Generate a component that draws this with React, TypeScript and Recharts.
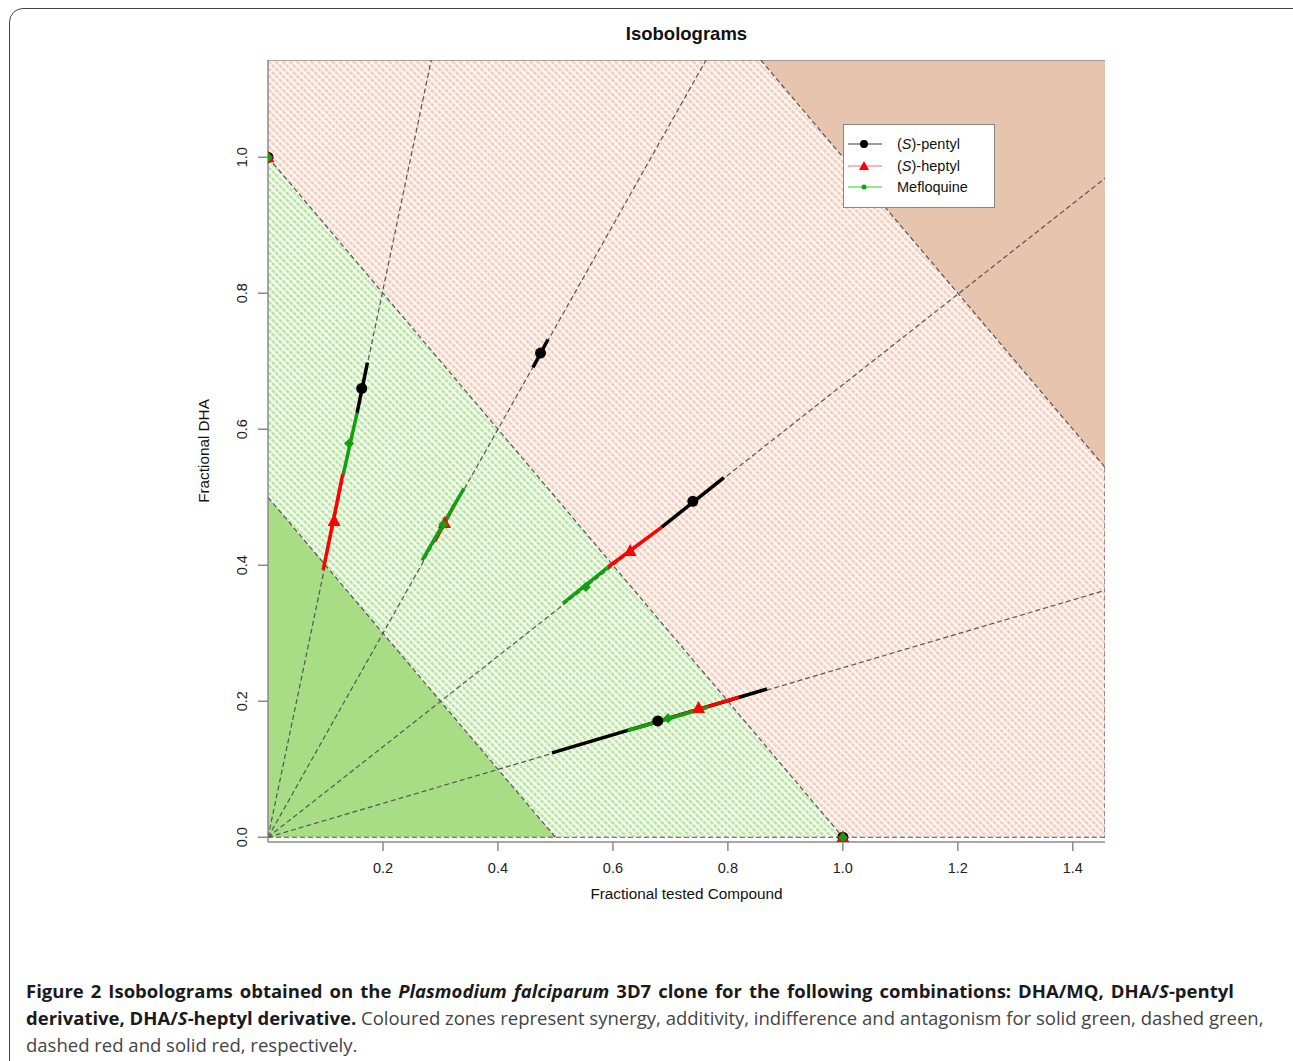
import React from 'react';
import { ComposedChart, Area, Line, Scatter, XAxis, YAxis } from 'recharts';

// plot window (fraction of IC50)
const X_MAX = 1.456;
const Y_MIN = -0.007;
const Y_MAX = 1.143;

const xTicks = [0.2, 0.4, 0.6, 0.8, 1.0, 1.2, 1.4];
const yTicks = [0, 0.2, 0.4, 0.6, 0.8, 1.0];

// zone boundaries (isoboles x + y = 0.5, 1, 2) sampled at their break points
const zoneX = [0, 0.5, 0.857, 1, 1.456];
const synergyTop = [0.5, 0, 0, 0, 0];
const additivityTop = [1, 0.5, 0.143, 0, 0];
const indifferenceTop = [1.143, 1.143, 1.143, 1, 0.544];
const plotTop = [1.143, 1.143, 1.143, 1.143, 1.143];

// fixed-ratio rays from origin
const rayEnds = [
  { x: 0.284, y: 1.143 },
  { x: 0.762, y: 1.143 },
  { x: 1.456, y: 0.969 },
  { x: 1.456, y: 0.363 },
];

const isoboleSegments = [
  [0, 0.5, 0.5, 0],
  [0, 1, 1, 0],
  [0.857, 1.143, 1.456, 0.544],
  [0, 0, 1.456, 0],
  [1.456, 0.544, 1.456, 0],
];

// confidence segments along each ray [x1, y1, x2, y2]
const pentylCI = [
  [0.155, 0.624, 0.173, 0.698],
  [0.461, 0.691, 0.487, 0.732],
  [0.685, 0.456, 0.793, 0.529],
  [0.494, 0.124, 0.868, 0.218],
];
const heptylCI = [
  [0.096, 0.393, 0.13, 0.534],
  [0.29, 0.435, 0.325, 0.49],
  [0.591, 0.397, 0.685, 0.456],
  [0.64, 0.16, 0.819, 0.206],
];
const mefloquineCI = [
  [0.131, 0.534, 0.155, 0.624],
  [0.268, 0.407, 0.341, 0.513],
  [0.513, 0.344, 0.591, 0.397],
  [0.626, 0.157, 0.765, 0.191],
];

const pentylPts = [
  { x: 0, y: 1 }, { x: 1, y: 0 },
  { x: 0.163, y: 0.66 }, { x: 0.474, y: 0.712 }, { x: 0.739, y: 0.494 }, { x: 0.678, y: 0.171 },
];
const heptylPts = [
  { x: 0, y: 1 }, { x: 1, y: 0 },
  { x: 0.115, y: 0.465 }, { x: 0.307, y: 0.462 }, { x: 0.63, y: 0.421 }, { x: 0.749, y: 0.19 },
];
const mefloquinePts = [
  { x: 0, y: 1 }, { x: 1, y: 0 },
  { x: 0.141, y: 0.579 }, { x: 0.305, y: 0.46 }, { x: 0.553, y: 0.368 }, { x: 0.696, y: 0.175 },
];

const zoneRows = zoneX.map((x, i) => ({
  x,
  synergy: [0, synergyTop[i]],
  additivity: [synergyTop[i], additivityTop[i]],
  indifference: [additivityTop[i], indifferenceTop[i]],
  antagonism: [indifferenceTop[i], plotTop[i]],
}));

const segs = (list: number[][]) =>
  list.flatMap((s) => [{ x: s[0], y: s[1] }, { x: s[2], y: s[3] }, { x: s[2], y: null }]);

const RED = '#ff0000';
const GREEN = '#12a012';
const DASH = '#555555';
const AXIS = '#8a8a8a';

const Dot = (p: any) => <circle cx={p.cx} cy={p.cy} r={5.5} fill="#000" />;
const Tri = (p: any) => (
  <polygon points={`${p.cx},${p.cy - 7} ${p.cx - 6.5},${p.cy + 5} ${p.cx + 6.5},${p.cy + 5}`} fill={RED} />
);
const Diamond = (p: any) => (
  <polygon points={`${p.cx},${p.cy - 5} ${p.cx + 5},${p.cy} ${p.cx},${p.cy + 5} ${p.cx - 5},${p.cy}`} fill={GREEN} />
);

const XTick = (p: any) => (
  <text x={p.x} y={p.y} dy="0.71em" textAnchor="middle" fontSize={14.5} fill="#222" fontFamily="Liberation Sans, Arial">
    {Number(p.payload.value).toFixed(1)}
  </text>
);
const YTick = (p: any) => (
  <text x={p.x} y={p.y} transform={`rotate(-90, ${p.x}, ${p.y})`} textAnchor="middle" fontSize={14.5} fill="#222" fontFamily="Liberation Sans, Arial">
    {Number(p.payload.value).toFixed(1)}
  </text>
);

const legendItems = [
  { label: 'pentyl', italic: true, line: '#777', marker: <circle cx={16} cy={7} r={4} fill="#000" /> },
  { label: 'heptyl', italic: true, line: '#ff9a9a', marker: <polygon points="16,2 11,11 21,11" fill={RED} /> },
  { label: 'Mefloquine', italic: false, line: '#6fe06f', marker: <circle cx={16} cy={7} r={2.5} fill={GREEN} /> },
];

export default function App() {
  const font = 'Liberation Sans, Arial, sans-serif';
  return (
    <div style={{ position: 'absolute', left: 0, top: 0, width: 1293, height: 1061, background: '#fff', overflow: 'hidden', fontFamily: font }}>
      <div style={{ position: 'absolute', left: 9, top: 8, width: 1310, height: 1100, border: '1.5px solid #444', borderRadius: 14 }} />
      <div style={{ position: 'absolute', left: 268, width: 837, top: 23, textAlign: 'center', fontWeight: 'bold', fontSize: 18.5, color: '#111' }}>
        Isobolograms
      </div>
      <ComposedChart
        width={1293}
        height={920}
        data={zoneRows}
        margin={{ top: 60, right: 188, bottom: 38, left: 208 }}
        style={{ position: 'absolute', left: 0, top: 0 }}
      >
        <defs>
          <pattern id="hatchGreen" width="5" height="5" patternUnits="userSpaceOnUse" patternTransform="rotate(-45)">
            <rect width="5" height="5" fill="#f6fcf2" />
            <line x1="1.5" y1="0" x2="1.5" y2="5" stroke="#b3e39a" strokeWidth="2.4" strokeDasharray="2 1" />
          </pattern>
          <pattern id="hatchRed" width="5" height="5" patternUnits="userSpaceOnUse" patternTransform="rotate(-45)">
            <rect width="5" height="5" fill="#fdf7f4" />
            <line x1="1.5" y1="0" x2="1.5" y2="5" stroke="#f2cdbb" strokeWidth="2.6" strokeDasharray="2 1" />
          </pattern>
        </defs>
        <XAxis
          dataKey="x"
          type="number"
          domain={[0, X_MAX]}
          ticks={xTicks}
          allowDataOverflow
          height={40}
          tickSize={9}
          tickMargin={12}
          tick={<XTick />}
          stroke={AXIS}
          strokeWidth={1.5}
        />
        <YAxis
          dataKey="y"
          type="number"
          domain={[Y_MIN, Y_MAX]}
          ticks={yTicks}
          allowDataOverflow
          width={60}
          tickSize={10}
          tickMargin={11}
          tick={<YTick />}
          stroke={AXIS}
          strokeWidth={1.5}
        />
        <Area type="linear" dataKey="synergy" fill="#a8dd86" fillOpacity={1} stroke="none" isAnimationActive={false} />
        <Area type="linear" dataKey="additivity" fill="url(#hatchGreen)" fillOpacity={1} stroke="none" isAnimationActive={false} />
        <Area type="linear" dataKey="indifference" fill="url(#hatchRed)" fillOpacity={1} stroke="none" isAnimationActive={false} />
        <Area type="linear" dataKey="antagonism" fill="#e6c4ae" fillOpacity={1} stroke="none" isAnimationActive={false} />
        <Line
          data={[{ x: 0, y: Y_MAX }, { x: X_MAX, y: Y_MAX }]}
          dataKey="y"
          stroke={AXIS}
          strokeWidth={1.5}
          dot={false}
          isAnimationActive={false}
        />
        {isoboleSegments.map((s, i) => (
          <Line
            key={'iso' + i}
            data={[{ x: s[0], y: s[1] }, { x: s[2], y: s[3] }]}
            dataKey="y"
            stroke={DASH}
            strokeWidth={1.2}
            strokeDasharray="5 3"
            dot={false}
            isAnimationActive={false}
          />
        ))}
        {rayEnds.map((r, i) => (
          <Line
            key={'ray' + i}
            data={[{ x: 0, y: 0 }, r]}
            dataKey="y"
            stroke={DASH}
            strokeWidth={1.2}
            strokeDasharray="5 3"
            dot={false}
            isAnimationActive={false}
          />
        ))}
        <Line data={segs(pentylCI)} dataKey="y" stroke="#000" strokeWidth={3.5} dot={false} connectNulls={false} isAnimationActive={false} />
        <Scatter data={pentylPts} dataKey="y" shape={<Dot />} isAnimationActive={false} />
        <Line data={segs(heptylCI)} dataKey="y" stroke={RED} strokeWidth={3.5} dot={false} connectNulls={false} isAnimationActive={false} />
        <Scatter data={heptylPts} dataKey="y" shape={<Tri />} isAnimationActive={false} />
        <Line data={segs(mefloquineCI)} dataKey="y" stroke={GREEN} strokeWidth={3.5} dot={false} connectNulls={false} isAnimationActive={false} />
        <Scatter data={mefloquinePts} dataKey="y" shape={<Diamond />} isAnimationActive={false} />
      </ComposedChart>

      <div style={{ position: 'absolute', left: 150, top: 451, width: 110, height: 20, transform: 'translate(0, -10px) rotate(-90deg)', transformOrigin: '55px 10px', textAlign: 'center', fontSize: 15.3, color: '#111', whiteSpace: 'nowrap' }}>
        Fractional DHA
      </div>
      <div style={{ position: 'absolute', left: 268, width: 837, top: 885, textAlign: 'center', fontSize: 15.3, color: '#111' }}>
        Fractional tested Compound
      </div>

      <div style={{ position: 'absolute', left: 843, top: 124, width: 150, height: 82, background: '#fff', border: '1.5px solid #888' }}>
        {legendItems.map((it, i) => (
          <div key={i} style={{ position: 'absolute', left: 4, top: 11 + i * 21.5, height: 16, display: 'flex', alignItems: 'center', fontSize: 14.5, color: '#111' }}>
            <svg width={34} height={14} style={{ marginRight: 15 }}>
              <line x1={0} y1={7} x2={34} y2={7} stroke={it.line} strokeWidth={1.3} />
              {it.marker}
            </svg>
            {it.italic ? (
              <span>(<i>S</i>)-{it.label}</span>
            ) : (
              <span>{it.label}</span>
            )}
          </div>
        ))}
      </div>

      <div style={{ position: 'absolute', left: 26, top: 977, fontFamily: 'Open Sans, sans-serif', fontSize: 18.5, lineHeight: '27px', color: '#444', whiteSpace: 'nowrap' }}>
        <div style={{ wordSpacing: 2.2 }}>
          <b style={{ color: '#1a1a1a' }}>
            Figure 2 Isobolograms obtained on the <i>Plasmodium falciparum</i> 3D7 clone for the following combinations: DHA/MQ, DHA/<i>S</i>-pentyl
          </b>
        </div>
        <div>
          <b style={{ color: '#1a1a1a' }}>derivative, DHA/<i>S</i>-heptyl derivative.</b> Coloured zones represent synergy, additivity, indifference and antagonism for solid green, dashed green,
        </div>
        <div>dashed red and solid red, respectively.</div>
      </div>
    </div>
  );
}
